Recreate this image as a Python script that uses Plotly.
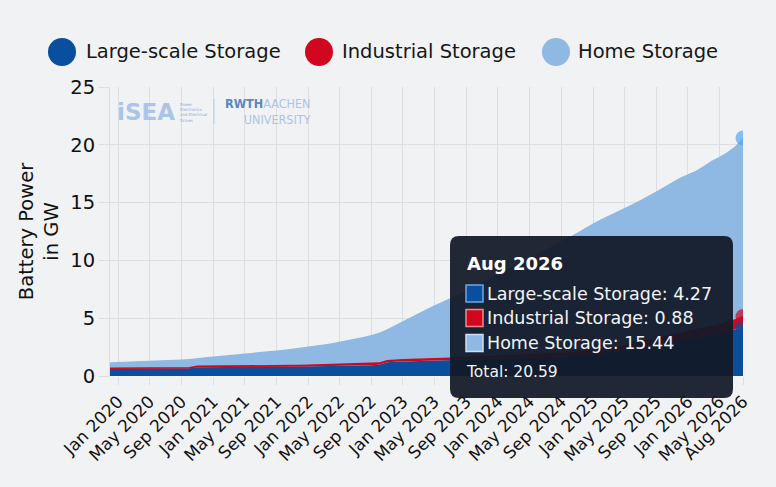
import pandas as pd
import plotly.graph_objects as go

# ---------------- data ----------------
months = pd.date_range("2019-12-01", "2026-08-01", freq="MS")

large_scale = [
    0.62, 0.62, 0.62, 0.62, 0.63, 0.63, 0.63, 0.63, 0.64, 0.64,
    0.66, 0.76, 0.77, 0.77, 0.78, 0.78, 0.78, 0.79, 0.79, 0.79,
    0.80, 0.80, 0.80, 0.81, 0.81, 0.82, 0.82, 0.83, 0.84, 0.85,
    0.86, 0.88, 0.90, 0.92, 0.98, 1.18, 1.24, 1.26, 1.27, 1.28,
    1.30, 1.31, 1.33, 1.35, 1.37, 1.39, 1.41, 1.43, 1.45, 1.47,
    1.49, 1.51, 1.53, 1.55, 1.57, 1.60, 1.63, 1.66, 1.70, 1.74,
    1.78, 1.83, 1.90, 1.98, 2.08, 2.20, 2.32, 2.45, 2.58, 2.70,
    2.82, 2.94, 3.06, 3.18, 3.30, 3.43, 3.56, 3.70, 3.85, 4.02,
    4.27,
]
industrial = [
    0.05, 0.05, 0.05, 0.05, 0.05, 0.05, 0.05, 0.05, 0.05, 0.05,
    0.06, 0.07, 0.07, 0.07, 0.07, 0.07, 0.08, 0.08, 0.08, 0.08,
    0.08, 0.09, 0.09, 0.09, 0.09, 0.10, 0.10, 0.10, 0.10, 0.11,
    0.11, 0.12, 0.12, 0.13, 0.13, 0.14, 0.15, 0.15, 0.16, 0.16,
    0.17, 0.17, 0.18, 0.18, 0.19, 0.19, 0.20, 0.20, 0.21, 0.22,
    0.23, 0.24, 0.25, 0.26, 0.27, 0.28, 0.29, 0.30, 0.31, 0.32,
    0.33, 0.34, 0.36, 0.38, 0.40, 0.42, 0.44, 0.46, 0.48, 0.50,
    0.53, 0.56, 0.59, 0.62, 0.65, 0.68, 0.71, 0.74, 0.78, 0.83,
    0.88,
]
home = [
    0.53, 0.55, 0.57, 0.59, 0.60, 0.62, 0.65, 0.68, 0.70, 0.73,
    0.75, 0.75, 0.78, 0.84, 0.89, 0.95, 1.01, 1.06, 1.13, 1.20,
    1.26, 1.32, 1.39, 1.46, 1.54, 1.61, 1.70, 1.79, 1.89, 1.99,
    2.11, 2.22, 2.36, 2.50, 2.64, 2.73, 3.01, 3.39, 3.72, 4.01,
    4.31, 4.62, 4.89, 5.17, 5.49, 5.82, 6.14, 6.47, 6.79, 7.11,
    7.43, 7.75, 8.07, 8.39, 8.71, 9.02, 9.33, 9.64, 9.99, 10.34,
    10.69, 11.03, 11.29, 11.49, 11.67, 11.88, 12.09, 12.29, 12.49, 12.75,
    13.00, 13.25, 13.50, 13.65, 13.80, 14.04, 14.33, 14.51, 14.72, 15.00,
    15.44,
]

tick_dates = [
    "2020-01-01", "2020-05-01", "2020-09-01", "2021-01-01", "2021-05-01",
    "2021-09-01", "2022-01-01", "2022-05-01", "2022-09-01", "2023-01-01",
    "2023-05-01", "2023-09-01", "2024-01-01", "2024-05-01", "2024-09-01",
    "2025-01-01", "2025-05-01", "2025-09-01", "2026-01-01", "2026-05-01",
    "2026-08-01",
]
tick_labels = [
    "Jan 2020", "May 2020", "Sep 2020", "Jan 2021", "May 2021",
    "Sep 2021", "Jan 2022", "May 2022", "Sep 2022", "Jan 2023",
    "May 2023", "Sep 2023", "Jan 2024", "May 2024", "Sep 2024",
    "Jan 2025", "May 2025", "Sep 2025", "Jan 2026", "May 2026",
    "Aug 2026",
]

series_names = ["Large-scale Storage", "Industrial Storage", "Home Storage"]
series_colors = ["#0a4f9e", "#d0071e", "#8fb8e3"]
marker_colors = ["#0a4f9e", "#d0071e", "#58a4f2"]
hover_label = "Aug 2026"
total_label = "Total: 20.59"
y_title = "Battery Power<br>in GW"

# ---------------- layout geometry ----------------
W, H = 776, 487
L, R, T, B = 110, 33, 87, 111
PW, PH = W - L - R, H - T - B
FONT = "DejaVu Sans"
BG = "#f1f2f4"


def px(x):
    return (x - L) / PW


def py(y):
    return (H - B - y) / PH


fig = go.Figure()
n = len(months)
values = [large_scale, industrial, home]
line_widths = [0, 1.6, 0]
for name, vals, col, mcol, lw in zip(series_names, values, series_colors,
                                    marker_colors, line_widths):
    fig.add_trace(go.Scatter(
        x=months, y=vals, name=name, stackgroup="one",
        mode="lines+markers",
        line=dict(color=col, width=lw),
        fillcolor=col,
        marker=dict(size=[0] * (n - 1) + [15], color=mcol,
                    line=dict(width=0)),
        showlegend=False, hoverinfo="skip",
    ))

shapes = []
annotations = []

# custom legend (large circles)
legend_items = [(62, 84), (319, 340), (556, 576)]
for (cx, tx), name, col in zip(legend_items, series_names, series_colors):
    shapes.append(dict(type="circle", xref="paper", yref="paper",
                       xsizemode="pixel", ysizemode="pixel",
                       xanchor=px(cx), yanchor=py(52),
                       x0=-14, x1=14, y0=-14, y1=14,
                       fillcolor=col, line=dict(width=0), layer="above"))
    annotations.append(dict(xref="paper", yref="paper", x=px(tx), y=py(52),
                            text=name, showarrow=False, xanchor="left",
                            yanchor="middle",
                            font=dict(family=FONT, size=19.5, color="#161616")))

# logo approximation
annotations += [
    dict(xref="paper", yref="paper", x=px(115), y=py(112), text="<b>iSEA</b>",
         showarrow=False, xanchor="left", yanchor="middle",
         font=dict(family="DejaVu Sans", size=23, color="#aac5e8")),
    dict(xref="paper", yref="paper", x=px(178), y=py(112),
         text="Power<br>Electronics<br>and Electrical<br>Drives",
         showarrow=False, xanchor="left", yanchor="middle", align="left",
         font=dict(family=FONT, size=4, color="#8aaad6")),
    dict(xref="paper", yref="paper", x=px(313), y=py(111),
         text=("<b><span style='color:#5a86c4'>RWTH</span></b>AACHEN"
               "<br>UNIVERSITY"),
         showarrow=False, xanchor="right", yanchor="middle", align="right",
         font=dict(family="DejaVu Sans Condensed", size=12.5, color="#a9c4e8")),
]
shapes.append(dict(type="line", xref="paper", yref="paper",
                   x0=px(214), x1=px(214), y0=py(99), y1=py(124),
                   line=dict(color="#b7cbe6", width=1), layer="above"))

# tooltip box
x0, x1, y0, y1 = px(450), px(733), py(398), py(236)
rx, ry = 9 / PW, 9 / PH
path = (f"M {x0+rx},{y1} L {x1-rx},{y1} Q {x1},{y1} {x1},{y1-ry} "
        f"L {x1},{y0+ry} Q {x1},{y0} {x1-rx},{y0} L {x0+rx},{y0} "
        f"Q {x0},{y0} {x0},{y0+ry} L {x0},{y1-ry} Q {x0},{y1} {x0+rx},{y1} Z")
shapes.append(dict(type="path", xref="paper", yref="paper", path=path,
                   fillcolor="rgba(19,26,40,0.94)", line=dict(width=0),
                   layer="above"))
annotations.append(dict(xref="paper", yref="paper", x=px(465), y=py(263),
                        text=f"<b>{hover_label}</b>", showarrow=False,
                        xanchor="left", yanchor="middle",
                        font=dict(family=FONT, size=18, color="#ffffff")))
row_y = [293.5, 318, 343]
border_cols = ["#6fa6e6", "#f08a8a", "#cfe0f4"]
for yy, name, vals, col, bc in zip(row_y, series_names, values,
                                   series_colors, border_cols):
    shapes.append(dict(type="rect", xref="paper", yref="paper",
                       x0=px(466), x1=px(483), y0=py(yy + 8.5), y1=py(yy - 8.5),
                       fillcolor=col, line=dict(color=bc, width=1.5),
                       layer="above"))
    annotations.append(dict(xref="paper", yref="paper", x=px(485), y=py(yy),
                            text=f"{name}: {vals[-1]:.2f}", showarrow=False,
                            xanchor="left", yanchor="middle",
                            font=dict(family=FONT, size=17.5, color="#f2f4f7")))
annotations.append(dict(xref="paper", yref="paper", x=px(464), y=py(372),
                        text=total_label, showarrow=False,
                        xanchor="left", yanchor="middle",
                        font=dict(family=FONT, size=15.5, color="#f2f4f7")))

grid = "#dcdee2"
fig.update_layout(
    width=W, height=H,
    margin=dict(l=L, r=R, t=T, b=B, autoexpand=False),
    paper_bgcolor=BG, plot_bgcolor=BG,
    font=dict(family=FONT, color="#111111"),
    shapes=shapes, annotations=annotations,
    hovermode=False,
    xaxis=dict(type="date", range=["2019-12-01", "2026-08-01"],
               tickvals=tick_dates, ticktext=tick_labels, tickangle=-45,
               ticks="outside", ticklen=8, tickcolor=grid,
               showgrid=True, gridcolor=grid, gridwidth=1,
               showline=False, zeroline=False,
               tickfont=dict(family=FONT, size=17, color="#111111")),
    yaxis=dict(range=[0, 25], dtick=5, ticks="outside", ticklen=10,
               tickcolor=grid, showgrid=True, gridcolor=grid,
               showline=True, linecolor=grid, zeroline=False,
               tickfont=dict(family=FONT, size=19.5, color="#111111"),
               title=dict(text=y_title, standoff=6,
                          font=dict(family=FONT, size=19.5, color="#111111"))),
)

fig.write_html(
    "out.html",
    config={"displayModeBar": False},
    post_script=(f"document.body.style.margin='0px';"
                 f"document.body.style.background='{BG}';"),
)
